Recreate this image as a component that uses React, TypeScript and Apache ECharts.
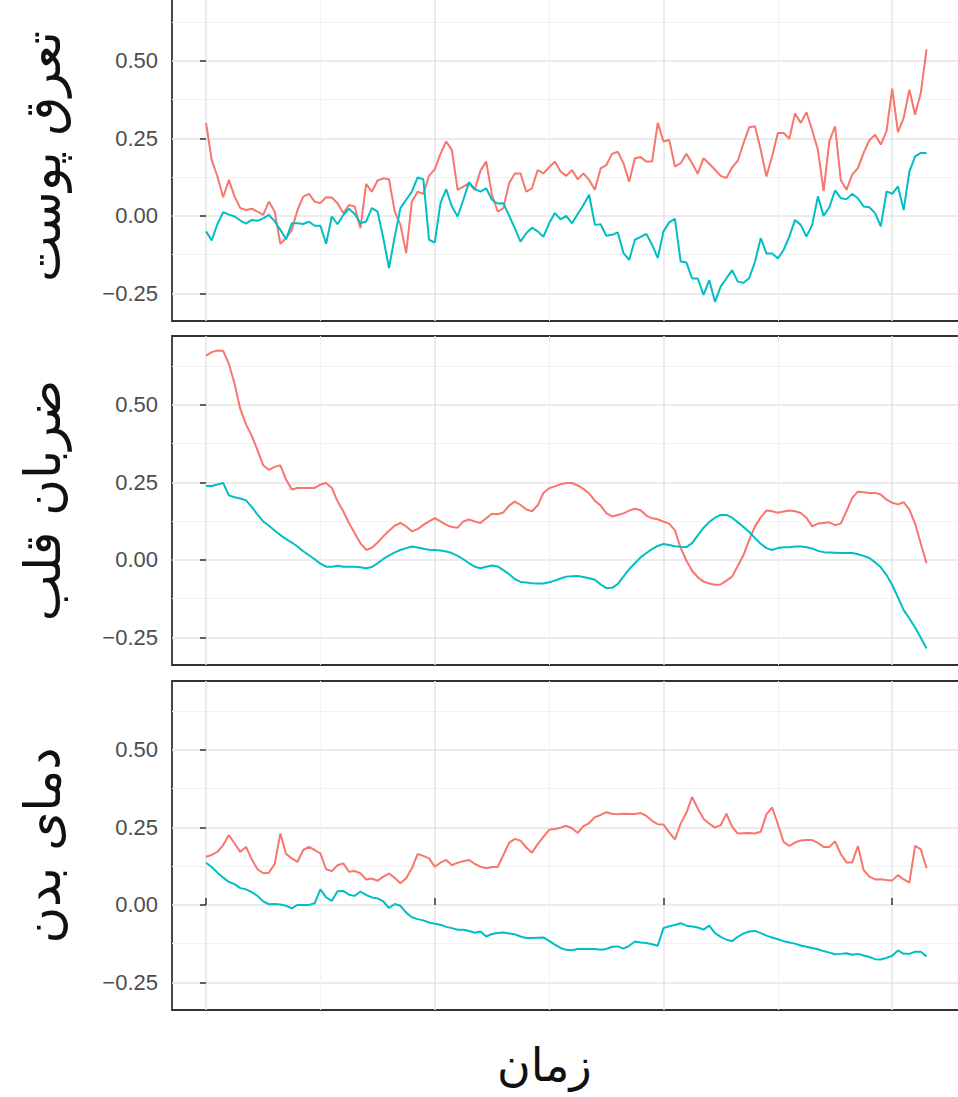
import React, { useEffect, useRef } from 'react';
import * as echarts from 'echarts';

// sampling times (arbitrary units), one sample every 2.5 units
const TIME = Array.from({ length: 127 }, (_, i) => i * 2.5);

const PANEL_TITLES = ['تعرق پوست', 'ضربان قلب', 'دمای بدن'];
const X_TITLE = 'زمان';

const Y_TICKS = [-0.25, 0, 0.25, 0.5];
const Y_MINOR = [-0.125, 0.125, 0.375, 0.625];
const X_TICKS = [0, 100, 200, 300];
const X_MINOR = [50, 150, 250];

// panel 1: skin conductance
const SKIN_RED = [
  0.30, 0.18, 0.127, 0.06, 0.116, 0.062, 0.025, 0.019, 0.023, 0.014,
  0.003, 0.046, 0.014, -0.09, -0.072, -0.045, 0.019, 0.062, 0.071, 0.046,
  0.041, 0.06, 0.059, 0.041, 0.009, 0.035, 0.03, -0.04, 0.103, 0.078,
  0.114, 0.121, 0.118, 0.014, -0.029, -0.12, 0.046, 0.078, 0.071, 0.129,
  0.15, 0.2, 0.24, 0.212, 0.084, 0.094, 0.105, 0.084, 0.146, 0.175,
  0.068, 0.014, 0.025, 0.105, 0.137, 0.137, 0.078, 0.089, 0.148, 0.137,
  0.157, 0.175, 0.143, 0.129, 0.148, 0.118, 0.137, 0.116, 0.084, 0.153,
  0.164, 0.2, 0.207, 0.17, 0.11, 0.186, 0.19, 0.175, 0.175, 0.30,
  0.24, 0.245, 0.159, 0.17, 0.2, 0.17, 0.136, 0.186, 0.168, 0.149,
  0.129, 0.122, 0.156, 0.178, 0.235, 0.286, 0.289, 0.213, 0.127, 0.192,
  0.267, 0.267, 0.249, 0.33, 0.3, 0.334, 0.276, 0.213, 0.08, 0.24,
  0.289, 0.116, 0.084, 0.133, 0.154, 0.203, 0.244, 0.262, 0.23, 0.273,
  0.41, 0.27, 0.316, 0.407, 0.326, 0.397, 0.537,
];
const SKIN_TEAL = [
  -0.05, -0.079, -0.026, 0.012, 0.004, -0.002, -0.015, -0.025, -0.013, -0.016,
  -0.008, 0.003, -0.017, -0.045, -0.075, -0.024, -0.024, -0.026, -0.019, -0.032,
  -0.032, -0.09, -0.002, -0.027, 0.003, 0.023, 0.006, -0.024, -0.018, 0.025,
  0.014, -0.072, -0.168, -0.067, 0.025, 0.052, 0.078, 0.124, 0.118, -0.077,
  -0.086, 0.041, 0.086, 0.03, -0.002, 0.052, 0.109, 0.086, 0.078, 0.089,
  0.052, 0.04, 0.041, 0.001, -0.04, -0.083, -0.056, -0.038, -0.05, -0.067,
  -0.024, 0.009, -0.011, 0, -0.024, 0.006, 0.035, 0.068, -0.029, -0.027,
  -0.064, -0.061, -0.053, -0.12, -0.142, -0.077, -0.068, -0.058, -0.093, -0.136,
  -0.05, -0.021, -0.01, -0.147, -0.15, -0.202, -0.202, -0.255, -0.207, -0.277,
  -0.228, -0.202, -0.175, -0.212, -0.216, -0.2, -0.148, -0.072, -0.121, -0.121,
  -0.137, -0.11, -0.067, -0.013, -0.029, -0.067, -0.029, 0.063, 0, 0.028,
  0.082, 0.057, 0.054, 0.071, 0.057, 0.03, 0.028, 0.009, -0.034, 0.079,
  0.071, 0.095, 0.019, 0.143, 0.192, 0.203, 0.203,
];

// panel 2: heart rate
const HEART_RED = [
  0.659, 0.67, 0.675, 0.674, 0.632, 0.567, 0.486, 0.437, 0.4, 0.354,
  0.305, 0.29, 0.3, 0.305, 0.259, 0.227, 0.232, 0.232, 0.232, 0.232,
  0.243, 0.248, 0.232, 0.189, 0.157, 0.119, 0.086, 0.054, 0.032, 0.039,
  0.056, 0.076, 0.094, 0.11, 0.119, 0.108, 0.092, 0.099, 0.113, 0.124,
  0.135, 0.124, 0.113, 0.106, 0.104, 0.124, 0.13, 0.124, 0.119, 0.134,
  0.149, 0.147, 0.153, 0.175, 0.188, 0.177, 0.163, 0.157, 0.176, 0.216,
  0.231, 0.237, 0.244, 0.248, 0.248, 0.24, 0.229, 0.214, 0.191, 0.175,
  0.151, 0.14, 0.145, 0.15, 0.159, 0.165, 0.16, 0.143, 0.134, 0.131,
  0.123, 0.117, 0.095, 0.039, -0.002, -0.035, -0.056, -0.07, -0.076, -0.08,
  -0.079, -0.067, -0.054, -0.019, 0.016, 0.065, 0.108, 0.137, 0.159, 0.157,
  0.152, 0.156, 0.159, 0.157, 0.151, 0.136, 0.108, 0.117, 0.119, 0.121,
  0.112, 0.117, 0.157, 0.2, 0.22, 0.218, 0.216, 0.216, 0.211, 0.194,
  0.184, 0.179, 0.186, 0.162, 0.117, 0.052, -0.011,
];
const HEART_TEAL = [
  0.238, 0.238, 0.243, 0.248, 0.208, 0.202, 0.198, 0.192, 0.171, 0.146,
  0.124, 0.11, 0.095, 0.08, 0.067, 0.056, 0.043, 0.028, 0.015, 0.002,
  -0.012, -0.022, -0.022, -0.019, -0.022, -0.022, -0.022, -0.024, -0.027, -0.023,
  -0.011, 0.003, 0.014, 0.024, 0.032, 0.038, 0.043, 0.04, 0.036, 0.033,
  0.032, 0.03, 0.027, 0.022, 0.013, 0.002, -0.011, -0.022, -0.027, -0.022,
  -0.018, -0.021, -0.033, -0.046, -0.062, -0.071, -0.073, -0.075, -0.076, -0.076,
  -0.072, -0.067, -0.06, -0.054, -0.053, -0.052, -0.055, -0.059, -0.064, -0.079,
  -0.091, -0.09, -0.078, -0.054, -0.03, -0.011, 0.008, 0.022, 0.035, 0.045,
  0.051, 0.048, 0.044, 0.042, 0.041, 0.054, 0.079, 0.103, 0.122, 0.136,
  0.145, 0.145, 0.136, 0.121, 0.106, 0.09, 0.07, 0.052, 0.038, 0.032,
  0.038, 0.041, 0.041, 0.043, 0.043, 0.041, 0.037, 0.029, 0.025, 0.024,
  0.023, 0.022, 0.022, 0.022, 0.018, 0.013, 0.006, -0.008, -0.024, -0.049,
  -0.081, -0.121, -0.162, -0.189, -0.218, -0.251, -0.286,
];

// panel 3: body temperature
const TEMP_RED = [
  0.155, 0.161, 0.171, 0.193, 0.225, 0.198, 0.171, 0.187, 0.147, 0.115,
  0.102, 0.104, 0.132, 0.23, 0.164, 0.15, 0.139, 0.177, 0.187, 0.177,
  0.166, 0.115, 0.109, 0.128, 0.134, 0.107, 0.109, 0.102, 0.082, 0.085,
  0.078, 0.091, 0.101, 0.087, 0.07, 0.086, 0.118, 0.164, 0.158, 0.15,
  0.123, 0.136, 0.145, 0.128, 0.136, 0.141, 0.145, 0.132, 0.123, 0.118,
  0.122, 0.122, 0.161, 0.2, 0.213, 0.207, 0.185, 0.168, 0.196, 0.219,
  0.242, 0.245, 0.249, 0.255, 0.247, 0.232, 0.254, 0.264, 0.283, 0.29,
  0.299, 0.294, 0.292, 0.294, 0.293, 0.293, 0.296, 0.287, 0.271, 0.26,
  0.259, 0.234, 0.211, 0.262, 0.297, 0.348, 0.31, 0.278, 0.262, 0.249,
  0.257, 0.294, 0.252, 0.23, 0.231, 0.232, 0.23, 0.236, 0.292, 0.314,
  0.26, 0.203, 0.19, 0.201, 0.208, 0.209, 0.209, 0.2, 0.187, 0.187,
  0.205, 0.164, 0.137, 0.137, 0.19, 0.112, 0.091, 0.082, 0.083, 0.08,
  0.079, 0.096, 0.082, 0.072, 0.19, 0.179, 0.118,
];
const TEMP_TEAL = [
  0.136, 0.122, 0.104, 0.088, 0.074, 0.067, 0.054, 0.05, 0.041, 0.029,
  0.011, 0.002, 0.003, 0.001, -0.003, -0.011, 0, 0, 0, 0.005,
  0.05, 0.024, 0.013, 0.044, 0.045, 0.033, 0.029, 0.043, 0.032, 0.024,
  0.021, 0.011, -0.01, 0.003, -0.003, -0.025, -0.04, -0.046, -0.05, -0.057,
  -0.061, -0.064, -0.071, -0.075, -0.08, -0.08, -0.084, -0.09, -0.086, -0.102,
  -0.094, -0.091, -0.089, -0.092, -0.095, -0.102, -0.107, -0.107, -0.106, -0.105,
  -0.116, -0.128, -0.139, -0.145, -0.146, -0.142, -0.142, -0.142, -0.142, -0.145,
  -0.142, -0.135, -0.134, -0.141, -0.132, -0.118, -0.121, -0.123, -0.127, -0.132,
  -0.075, -0.069, -0.065, -0.059, -0.067, -0.07, -0.073, -0.08, -0.067, -0.091,
  -0.103, -0.112, -0.117, -0.103, -0.092, -0.086, -0.084, -0.091, -0.099, -0.105,
  -0.111, -0.117, -0.121, -0.125, -0.131, -0.135, -0.139, -0.143, -0.149, -0.154,
  -0.159, -0.158, -0.156, -0.161, -0.158, -0.163, -0.168, -0.175, -0.176, -0.171,
  -0.164, -0.147, -0.158, -0.158, -0.151, -0.151, -0.166,
];

const PANEL_DATA = [
  [SKIN_RED, SKIN_TEAL],
  [HEART_RED, HEART_TEAL],
  [TEMP_RED, TEMP_TEAL],
];

const RED = '#F8766D';
const TEAL = '#00BFC4';

const fmt = (v: number) => {
  const s = Math.abs(v).toFixed(2);
  return v < -1e-9 ? '\u2212' + s : s;
};

export default function App() {
  const ref = useRef<HTMLDivElement>(null);
  useEffect(() => {
    const chart = echarts.init(ref.current as HTMLDivElement, null, { renderer: 'svg' });
    // container is shifted up by 8px, so the top panel's upper border sits just off the page
    const tops = [0, 344, 689];
    const H = 329;
    const grid: any[] = [];
    const xAxis: any[] = [];
    const yAxis: any[] = [];
    const series: any[] = [];
    const majorLine = { color: '#e4e4e4', width: 1.5 };
    const minorLine = { color: '#f2f2f2', width: 1 };
    const X_MIN = -14.87;
    const X_MAX = 330.5;
    tops.forEach((top, p) => {
      grid.push({
        left: 172, top, width: 790, height: H, show: true,
        outerBoundsMode: 'none', containLabel: false,
        backgroundColor: '#ffffff', borderColor: '#333333', borderWidth: 1.8,
      });
      xAxis.push({
        type: 'value', gridIndex: p, min: X_MIN, max: X_MAX,
        axisLine: { show: false }, axisLabel: { show: false },
        axisTick: { show: false, customValues: X_MINOR },
        splitLine: { show: true, lineStyle: minorLine },
      });
      xAxis.push({
        type: 'value', gridIndex: p, min: X_MIN, max: X_MAX,
        axisLine: { show: false }, axisLabel: { show: false },
        axisTick: { show: p === 2, customValues: X_TICKS, length: 7, lineStyle: { color: '#333333', width: 1.5 } },
        splitLine: { show: true, lineStyle: majorLine },
      });
      yAxis.push({
        type: 'value', gridIndex: p, min: -0.339, max: 0.722,
        axisLine: { show: false }, axisLabel: { show: false },
        axisTick: { show: false, customValues: Y_MINOR },
        splitLine: { show: true, lineStyle: minorLine },
      });
      yAxis.push({
        type: 'value', gridIndex: p, min: -0.339, max: 0.722, position: 'left',
        name: PANEL_TITLES[p], nameLocation: 'middle', nameRotate: 90, nameGap: 104,
        nameTextStyle: { fontSize: 50, color: '#111111', fontFamily: 'DejaVu Sans' },
        axisLine: { show: false },
        axisTick: { show: true, customValues: Y_TICKS, length: 6, lineStyle: { color: '#333333', width: 1.5 } },
        axisLabel: {
          customValues: Y_TICKS, formatter: fmt, margin: 14,
          color: '#4d4d4d', fontSize: 22, fontFamily: 'Liberation Sans',
        },
        splitLine: { show: true, lineStyle: majorLine },
      });
      PANEL_DATA[p].forEach((arr, k) => {
        series.push({
          type: 'line', xAxisIndex: p * 2 + 1, yAxisIndex: p * 2 + 1,
          data: TIME.map((t, i) => [t, arr[i]]),
          showSymbol: false, symbol: 'none',
          lineStyle: { color: k === 0 ? RED : TEAL, width: 2 },
          itemStyle: { color: k === 0 ? RED : TEAL },
          z: 3,
        });
      });
    });
    chart.setOption({
      animation: false,
      backgroundColor: '#ffffff',
      grid, xAxis, yAxis, series,
      graphic: [
        {
          type: 'text', left: 497, top: 1050,
          style: { text: X_TITLE, fontSize: 46, fill: '#111111', fontFamily: 'DejaVu Sans' },
        },
      ],
    });
    return () => chart.dispose();
  }, []);
  return <div ref={ref} style={{ position: 'absolute', left: 0, top: -8, width: 958, height: 1105 }} />;
}
